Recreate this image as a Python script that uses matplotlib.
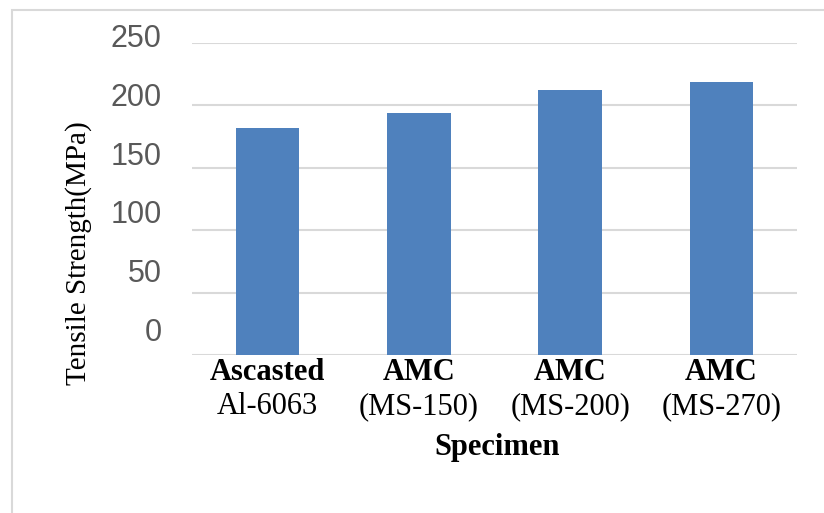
import matplotlib
matplotlib.use("Agg")
import matplotlib.pyplot as plt
from matplotlib.patches import Rectangle
from matplotlib.transforms import ScaledTranslation, blended_transform_factory

# data
line1 = ["Ascasted", "AMC", "AMC", "AMC"]
line2 = ["Al-6063", "(MS-150)", "(MS-200)", "(MS-270)"]
strength = [182, 194, 212, 219]
yticks = [0, 50, 100, 150, 200, 250]

BLUE = "#4f81bd"
GRID = "#d9d9d9"

fig = plt.figure(figsize=(8.24, 5.13), dpi=100)
ax = fig.add_axes([192 / 824, 1 - 355 / 513, 605 / 824, 312 / 513])

# outer chart border (left and top visible)
fig.patches.append(Rectangle((12 / 824, -0.2), 1.2, 1.2 - 10 / 513,
                             transform=fig.transFigure, fill=False,
                             edgecolor=GRID, linewidth=1.5))

x = list(range(len(strength)))
ax.bar(x, strength, width=0.42, color=BLUE, zorder=3)
ax.set_xlim(-0.5, len(strength) - 0.5)
ax.set_ylim(0, 250)

for v in yticks:
    ax.axhline(v, color=GRID, linewidth=1.5, zorder=1)
for s in ax.spines.values():
    s.set_visible(False)

# y tick labels sit a little above their gridlines in the reference
ax.set_yticks([])
ytr = ax.get_yaxis_transform()
for v in yticks:
    ax.text(-0.05, 17.85 + 0.94 * v, str(v), transform=ytr, ha="right",
            va="center", fontsize=22, color="#595959", family="Liberation Sans")

ax.set_xticks(x)
ax.set_xticklabels(line1, fontsize=22, fontweight="bold",
                   family="Liberation Serif", color="black")
ax.tick_params(axis="x", length=0, pad=2)
ax.tick_params(axis="y", length=0)

xtr = blended_transform_factory(ax.transData, ax.transAxes)
off = ScaledTranslation(0, -0.52, fig.dpi_scale_trans)
for i, t in enumerate(line2):
    ax.text(i, 0, t, transform=xtr + off, ha="center", va="center",
            fontsize=22, family="Liberation Serif", color="black")

ax.set_ylabel("Tensile Strength(MPa)", fontsize=21, family="Liberation Serif",
              color="black")
ax.yaxis.set_label_coords(-0.165, 0.328)

fig.text(497 / 824, 1 - 447 / 513, "Specimen", ha="center", va="center",
         fontsize=22, fontweight="bold", family="Liberation Serif", color="black")

fig.savefig("out.png", dpi=100)
